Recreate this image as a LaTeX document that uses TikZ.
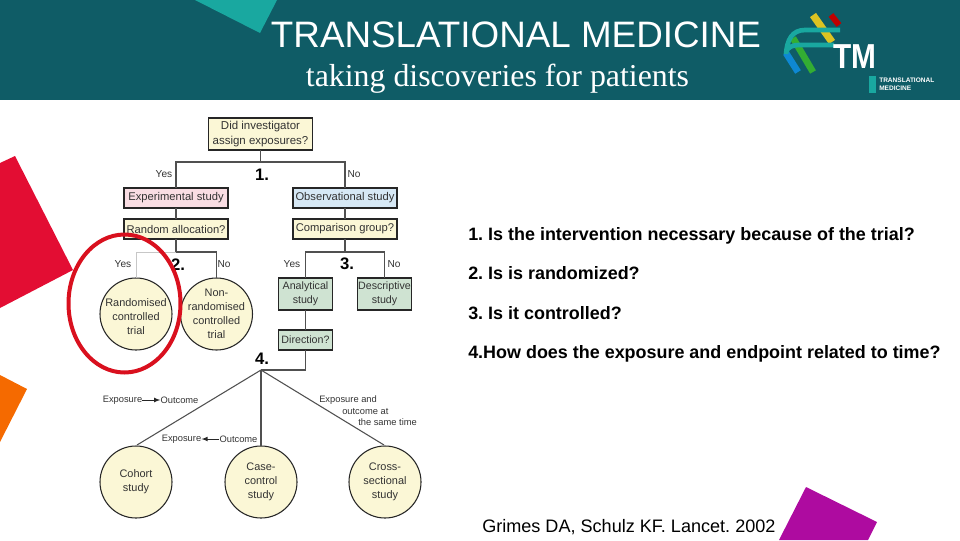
\documentclass[tikz,border=0pt]{standalone}
\usepackage{graphicx}
\usepackage{fontspec}
\setmainfont{Liberation Sans}
\newfontfamily\serifhead{Liberation Serif}
\usetikzlibrary{arrows,positioning,shapes}
\frenchspacing
\definecolor{headteal}{HTML}{0F5C66}
\definecolor{lightteal}{HTML}{19A8A0}
\definecolor{cream}{HTML}{FBF7D6}
\definecolor{pinkbox}{HTML}{F9DDE3}
\definecolor{bluebox}{HTML}{D6E8F5}
\definecolor{greenbox}{HTML}{CFE3D2}
\definecolor{wirecol}{HTML}{505050}
\definecolor{inkcol}{HTML}{333333}
\definecolor{cornerred}{HTML}{E30D33}
\definecolor{cornerorange}{HTML}{F56A00}
\definecolor{cornerpurple}{HTML}{AE0BA0}
\definecolor{markred}{HTML}{D9101E}
\tikzstyle{qbox}=[rectangle,draw=black!85,line width=.9pt,fill=cream,inner sep=0pt,outer sep=0pt,
minimum width=78pt,minimum height=15pt,text=inkcol,font=\fontsize{8.4}{10.5}\selectfont,align=center]
\tikzstyle{gbox}=[qbox,fill=greenbox,minimum width=41pt,minimum height=24pt,font=\fontsize{8}{10.5}\selectfont]
\tikzstyle{trial}=[circle,draw=black!85,line width=.8pt,fill=cream,inner sep=-8pt,outer sep=0pt,
minimum size=54pt,text=inkcol,font=\fontsize{8.2}{10.5}\selectfont,align=center]
\tikzstyle{small}=[text=inkcol,inner sep=0pt,font=\fontsize{7.6}{10}\selectfont]
\tikzstyle{tiny}=[text=inkcol,inner sep=0pt,font=\fontsize{7}{8}\selectfont]
\tikzstyle{num}=[inner sep=0pt,font=\bfseries\fontsize{12.5}{14}\selectfont]
\tikzstyle{question}=[anchor=base west,inner sep=0pt,font=\bfseries\fontsize{13.45}{15}\selectfont]
\tikzstyle{wire}=[draw=wirecol,line width=.8pt]
\tikzstyle{faint}=[draw=black!22,line width=.6pt]

\begin{document}
\begin{tikzpicture}[x=.75pt,y=-.75pt,>=stealth',auto]
            \useasboundingbox (0,0) rectangle (960,540);

            % HEADER PART

            \fill[headteal] (0,0) rectangle (960,100);
            \fill[lightteal] (195,0) -- (260,33) -- (277,0) -- cycle;
            \node[white,inner sep=0pt,font=\fontsize{27.6}{30}\selectfont] (title) at (516,35) {TRANSLATIONAL MEDICINE};
            \node[white,inner sep=0pt,anchor=base,font=\serifhead\fontsize{23.9}{26}\selectfont] (subtitle) at (497.5,86) {taking discoveries for patients};

            % LOGO PART

            \draw[line width=5.5pt,yellow!80!orange!85!black] (813,15) -- (832,42);
            \draw[line width=4.5pt,red!75!black] (831,15) -- (839,25);
            \draw[line width=5pt,green!60!black!80] (793,38) -- (813,72);
            \draw[line width=5pt,cyan!70!blue] (786,53) -- (798,72);
            \draw[line width=3.5pt,lightteal] (786,54) .. controls (787,40) and (792,30) .. (805,30) -- (840,30);
            \draw[line width=3.5pt,lightteal] (786,52) .. controls (788,47) and (792,45) .. (800,45) -- (834,45);
            \node[white,inner sep=0pt,font=\bfseries\fontsize{26}{28}\selectfont] (tm) at (855,57) {\scalebox{.86}[1]{TM}};
            \fill[lightteal] (869,76) rectangle (876,93);
            \node[white,anchor=west,inner sep=0pt,font=\bfseries\fontsize{4.9}{6.2}\selectfont,align=left] (tmtext) at (879,84) {TRANSLATIONAL\\MEDICINE};

            % CORNER SHAPES

            \fill[cornerred] (15,156) -- (73,270) -- (0,308) -- (0,163) -- cycle;
            \fill[cornerorange] (0,375) -- (27,389) -- (0,442) -- cycle;
            \fill[cornerpurple] (806,487) -- (877,522) -- (868,540) -- (779,540) -- cycle;

            % DESIGN PART

            \node[qbox,minimum height=24pt,font=\fontsize{8.6}{11}\selectfont] (assign) at (260.5,134) {Did investigator\\assign exposures?};
            \node[qbox,fill=pinkbox] (exper) at (176,198) {Experimental study};
            \node[qbox,fill=bluebox] (obser) at (345,198) {Observational study};
            \node[qbox,below=8.25pt of exper] (alloc) {Random allocation?};
            \node[qbox,below=8.25pt of obser] (compar) {Comparison group?};

            \node[trial] (rct) at (136,314) {\rule{0pt}{10.5pt}Randomised\\controlled\\trial};
            \node[trial] (nrct) at (216.5,314) {Non-\\randomised\\controlled\\trial};
            \node[gbox] (analyt) at (305.5,294) {Analytical\\study};
            \node[gbox] (descr) at (384.5,294) {Descriptive\\study};
            \node[qbox,fill=greenbox,minimum width=41pt,font=\fontsize{8}{10}\selectfont,below=15pt of analyt] (direct) {Direction?};

            \node[trial] (cohort) at (136,482) {Cohort\\study};
            \node[trial] (casec) at (261,482) {Case-\\control\\study};
            \node[trial] (cross) at (385,482) {Cross-\\sectional\\study};

            \coordinate (split1) at (260.5,162);
            \coordinate (split2) at (176,252);
            \coordinate (split3) at (345,252);
            \coordinate (split4) at (261,370);
            \coordinate (cohtop) at (137,445);
            \coordinate (crotop) at (384,445);

            \draw[wire] (assign) -- (split1);
            \draw[wire] (split1) -| (exper);
            \draw[wire] (split1) -| (obser);
            \draw[wire] (exper) -- (alloc);
            \draw[wire] (obser) -- (compar);
            \draw[wire] (alloc) -- (split2);
            \draw[wire] (compar) -- (split3);
            \draw[faint] (split2) -| (rct);
            \draw[wire] (split2) -| (nrct);
            \draw[wire] (split3) -| (analyt);
            \draw[wire] (split3) -| (descr);
            \draw[wire] (analyt) -- (direct);
            \draw[wire] (direct) |- (split4);
            \draw[wire] (split4) -- (cohtop);
            \draw[wire] (split4) -- (casec);
            \draw[wire] (split4) -- (crotop);

            % Branch labels

            \node[small] (yes1) at (164,174) {Yes};
            \node[small] (no1) at (354,174) {No};
            \node[small] (yes2) at (123,264) {Yes};
            \node[small] (no2) at (224,264) {No};
            \node[small] (yes3) at (292,264) {Yes};
            \node[small] (no3) at (394,264) {No};

            \node[tiny] (expo1) at (122.5,400) {Exposure};
            \node[tiny] (outc1) at (179.5,400) {Outcome};
            \node[tiny] (expo2) at (181.5,439) {Exposure};
            \node[tiny] (outc2) at (238.5,439) {Outcome};
            \draw[-latex,line width=.6pt,black!85] (expo1) -- (outc1);
            \draw[-latex,line width=.6pt,black!85] (outc2) -- (expo2);
            \node[tiny,anchor=west] (same1) at (319,400) {Exposure and};
            \node[tiny,anchor=west] (same2) at (342,412) {outcome at};
            \node[tiny,anchor=west] (same3) at (358,422.5) {the same time};

            % Question numbers

            \node[num] (n1) at (262,175) {1.};
            \node[num] (n2) at (178,264.5) {2.};
            \node[num] (n3) at (347,264) {3.};
            \node[num] (n4) at (262,359) {4.};

            \draw[markred,line width=3pt] (124.5,303.5) ellipse (56 and 69);

            % Question list

            \node[question] (q1) at (468,240.5) {1. Is the intervention necessary because of the trial?};
            \node[question] (q2) at (468,279.5) {2. Is is randomized?};
            \node[question] (q3) at (468,319.5) {3. Is it controlled?};
            \node[question] (q4) at (468,358.5) {4.How does the exposure and endpoint related to time?};
            \node[anchor=base west,inner sep=0pt,font=\fontsize{13.55}{15}\selectfont] (cite) at (482,532) {Grimes DA, Schulz KF. Lancet. 2002};

        \end{tikzpicture}
\end{document}
